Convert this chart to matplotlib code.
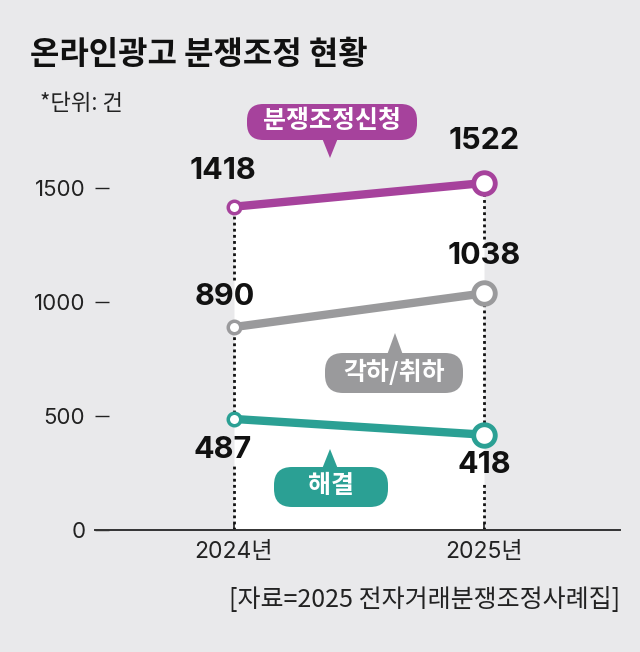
import matplotlib
matplotlib.use('Agg')
import matplotlib.pyplot as plt
from matplotlib.patches import FancyBboxPatch, Polygon

plt.rcParams['font.family'] = ['Inter', 'Noto Sans CJK KR', 'DejaVu Sans']
KR = ['Noto Sans CJK KR', 'DejaVu Sans']

# data
years = ['2024년', '2025년']
applied = [1418, 1522]      # 분쟁조정신청
dismissed = [890, 1038]     # 각하/취하
resolved = [487, 418]       # 해결
yticks = [0, 500, 1000, 1500]

bg = '#e9e9eb'
purple = '#a6429c'
gray = '#9a9a9c'
teal = '#2ba094'

fig = plt.figure(figsize=(6.4, 6.52), dpi=100, facecolor=bg)
H = 652.0
PX_PER_UNIT = 0.228
# axes: left 95px, right 620px, bottom 530px, top 100px
ax = fig.add_axes([95 / 640, (H - 530) / H, 525 / 640, 430 / H])
ax.set_facecolor(bg)

x = [0, 1]
ax.set_xlim(-139 / 250, 1 + 136 / 250)
ax.set_ylim(0, 430 / PX_PER_UNIT)

# value label offsets in points
offsets = {
    'applied': [(-8, 26), (0, 30)],
    'dismissed': [(-7, 22), (0, 27)],
    'resolved': [(-8, -22), (0, -22)],
}
HALF_LABEL = 12  # points


def pt2data(p):
    return p * 100 / 72 / PX_PER_UNIT


# white area under the top line
ax.fill_between(x, 0, applied, color='white', zorder=1, linewidth=0)

# dotted guide lines, broken where the value labels sit
for i in range(2):
    top_gap = pt2data(offsets['dismissed'][i][1] + HALF_LABEL)
    bot_gap = pt2data(-offsets['resolved'][i][1] + HALF_LABEL)
    segs = [(dismissed[i] + top_gap, applied[i]),
            (resolved[i], dismissed[i]),
            (0, resolved[i] - bot_gap)]
    for lo, hi in segs:
        ax.vlines(x[i], lo, hi, colors='#111111', linestyles=(0, (1, 1.2)), linewidth=2, zorder=2)

for vals, c in [(applied, purple), (dismissed, gray), (resolved, teal)]:
    ax.plot(x, vals, color=c, linewidth=6, solid_capstyle='round', zorder=3)
    ax.plot(x[0], vals[0], 'o', ms=9, mfc='white', mec=c, mew=2.5, zorder=4)
    ax.plot(x[1], vals[1], 'o', ms=15.5, mfc='white', mec=c, mew=3.5, zorder=4)

for key, vals in [('applied', applied), ('dismissed', dismissed), ('resolved', resolved)]:
    for i in range(2):
        ax.annotate(str(vals[i]), (x[i], vals[i]), xytext=offsets[key][i], textcoords='offset points',
                    ha='center', va='center', fontsize=22, fontweight='bold', color='#111111', zorder=5)

for s in ['top', 'right', 'left']:
    ax.spines[s].set_visible(False)
ax.spines['bottom'].set_color('#333333')
ax.spines['bottom'].set_linewidth(1.4)

ax.set_yticks(yticks)
ax.set_yticklabels([str(v) for v in yticks])
ax.tick_params(axis='y', direction='in', length=10, width=1, color='#222222', pad=7,
               labelsize=16, labelcolor='#222222')
ax.set_xticks(x)
ax.set_xticklabels(years)
ax.tick_params(axis='x', direction='in', length=4, width=1.2, color='#222222', pad=8,
               labelsize=16.5, labelcolor='#222222')


def px(xp, yp):
    return (xp / 100.0, (H - yp) / 100.0)


def bubble(x0, y0, x1, y1, tip, base_y, text, color):
    w = (x1 - x0) / 100.0
    h = (y1 - y0) / 100.0
    box = FancyBboxPatch(px(x0, y1), w, h, boxstyle='round,pad=0,rounding_size=%f' % (h / 2 * 0.9),
                         transform=fig.dpi_scale_trans, facecolor=color, edgecolor='none', zorder=6)
    fig.patches.append(box)
    tx, ty = tip
    tri = Polygon([px(tx - 8, base_y), px(tx + 8, base_y), px(tx, ty)], closed=True,
                  transform=fig.dpi_scale_trans, facecolor=color, edgecolor='none', zorder=6)
    fig.patches.append(tri)
    cx, cy = px((x0 + x1) / 2, (y0 + y1) / 2 - 1)
    fig.text(cx / 6.4, cy / 6.52, text, ha='center', va='center', color='white',
             fontsize=18, fontweight='bold', family=KR, zorder=8)


bubble(247, 104, 417, 140, (330, 158), 138, '분쟁조정신청', purple)
bubble(325, 353, 463, 393, (395, 333), 355, '각하/취하', gray)
bubble(274, 467, 388, 507, (330, 449), 469, '해결', teal)

fig.text(30 / 640, 1 - 55 / H, '온라인광고 분쟁조정 현황', ha='left', va='center',
         fontsize=23, fontweight='bold', color='#111111', family=KR)
fig.text(40 / 640, 1 - 104 / H, '*단위: 건', ha='left', va='center', fontsize=16,
         color='#222222', family=KR)
fig.text(620 / 640, 1 - 600 / H, '[자료=2025 전자거래분쟁조정사례집]', ha='right', va='center',
         fontsize=18, color='#222222', family=KR)

fig.savefig('out.png', dpi=100, facecolor=bg)
